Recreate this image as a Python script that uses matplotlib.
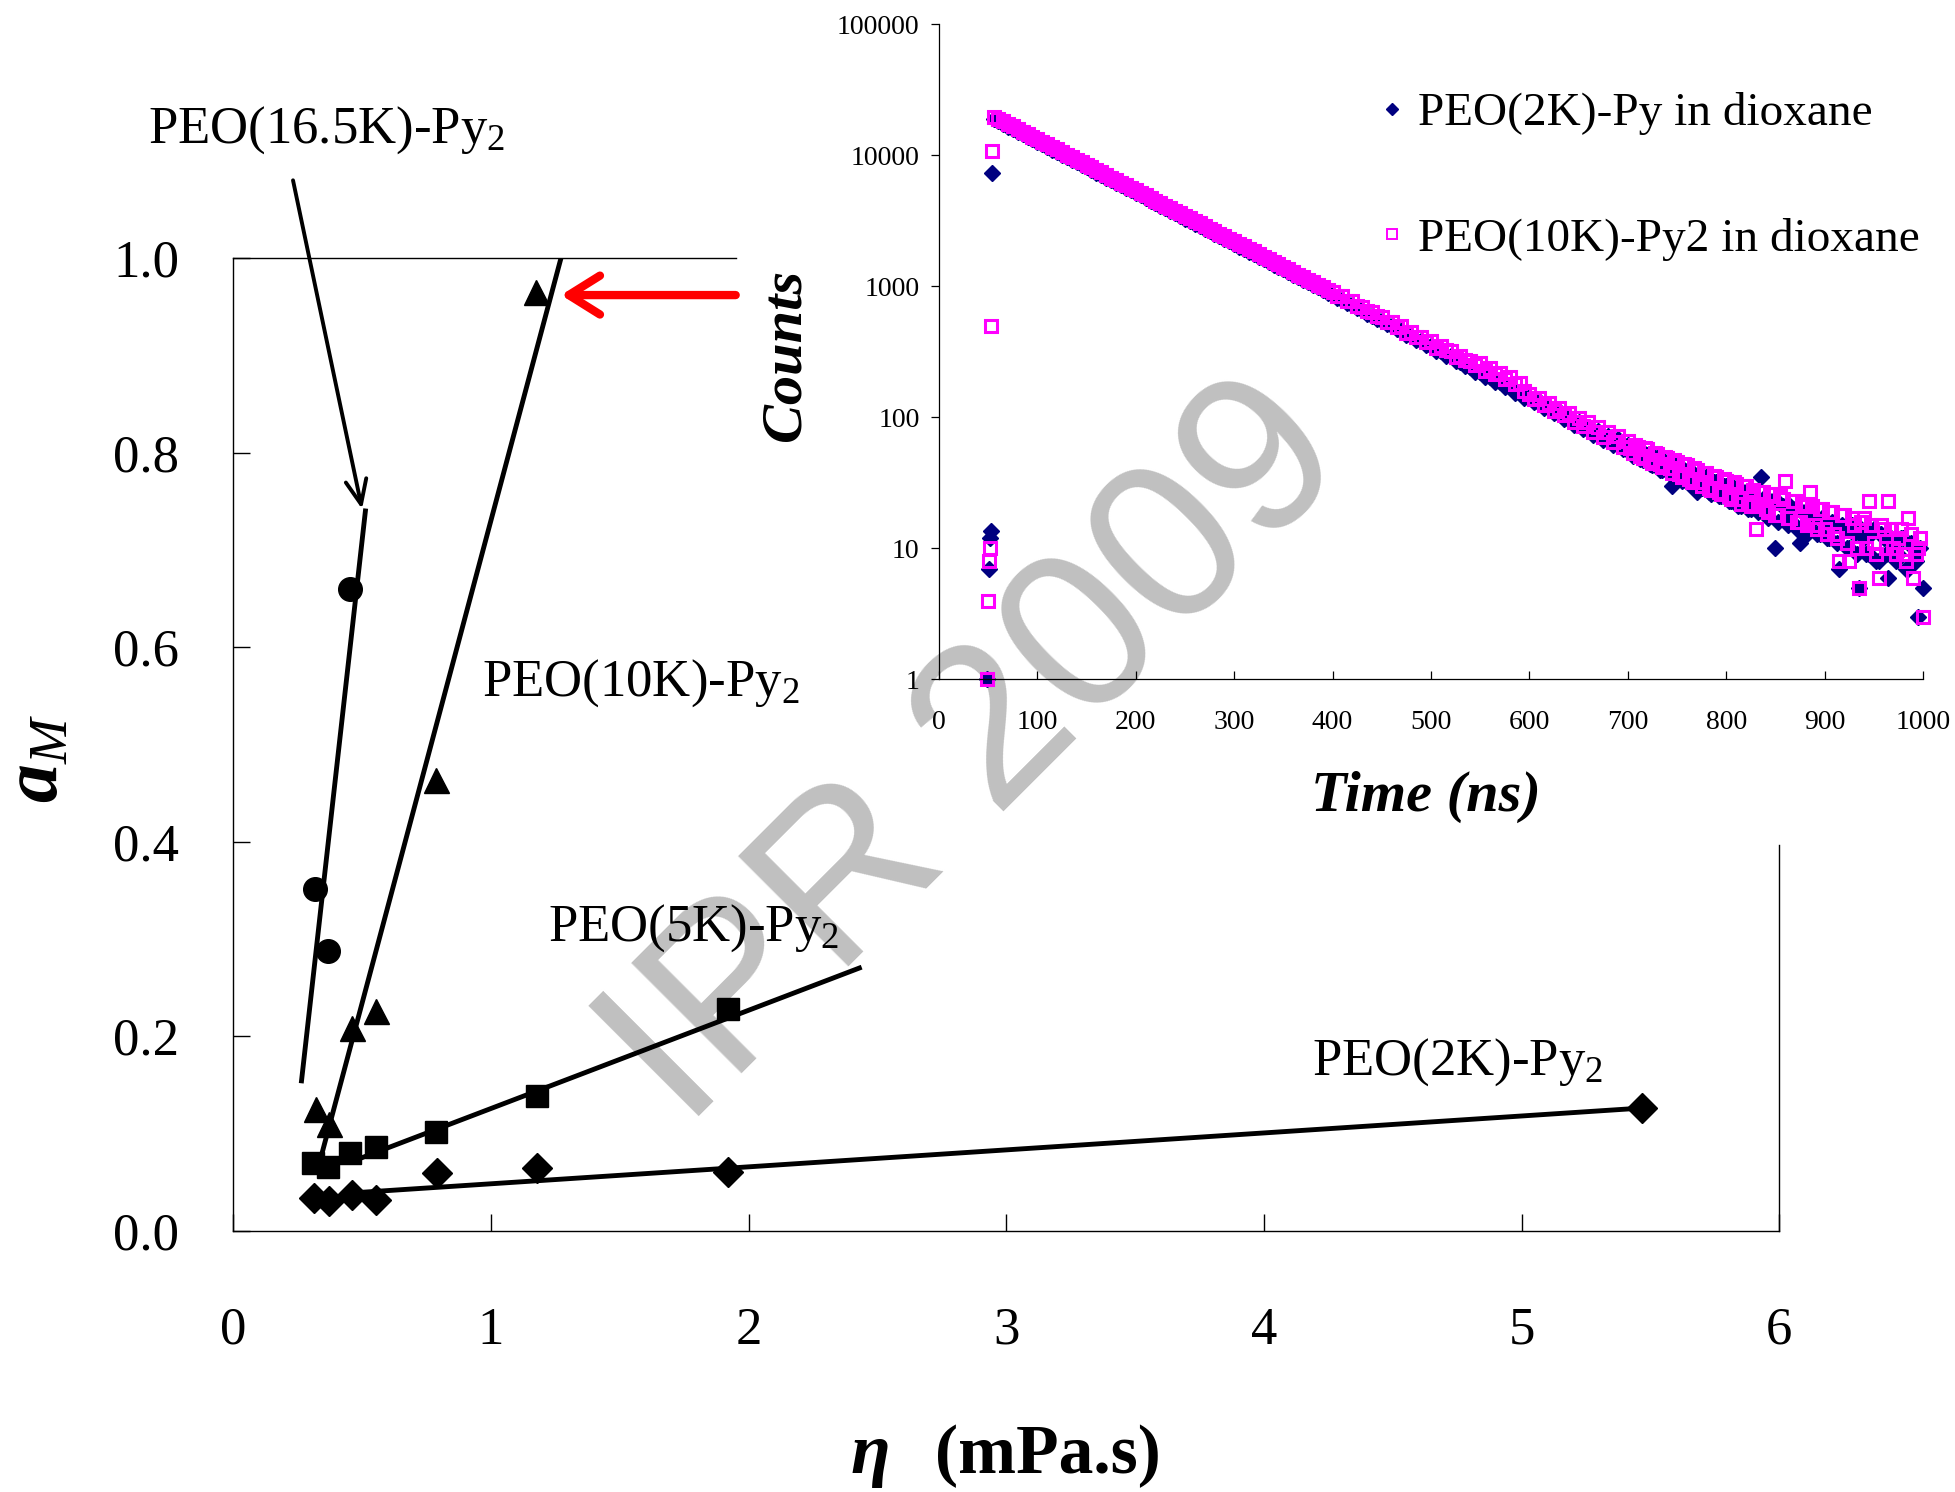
import numpy as np
import matplotlib.pyplot as plt
from matplotlib.ticker import FixedLocator

plt.switch_backend('agg')
plt.rcParams['font.family'] = ['Liberation Serif', 'DejaVu Serif']
plt.rcParams['mathtext.fontset'] = 'custom'
plt.rcParams['mathtext.rm'] = 'Liberation Serif'
plt.rcParams['mathtext.it'] = 'Liberation Serif:italic'
plt.rcParams['mathtext.bf'] = 'Liberation Serif:bold'
plt.rcParams['mathtext.bfit'] = 'Liberation Serif:italic:bold'

# ---- main plot: a_M vs viscosity ----
eta_16k = [0.316, 0.368, 0.455]
am_16k = [0.351, 0.288, 0.660]
fit_16k_x = [0.265, 0.513]
fit_16k_y = [0.154, 0.740]

eta_10k = [0.320, 0.372, 0.461, 0.554, 0.787, 1.174]
am_10k = [0.125, 0.110, 0.208, 0.226, 0.463, 0.965]
fit_10k_x = [0.343, 1.272]
fit_10k_y = [0.078, 1.000]

eta_5k = [0.309, 0.369, 0.453, 0.554, 0.787, 1.178, 1.920]
am_5k = [0.070, 0.065, 0.080, 0.086, 0.101, 0.138, 0.228]
fit_5k_x = [0.50, 2.43]
fit_5k_y = [0.075, 0.270]

eta_2k = [0.313, 0.372, 0.459, 0.556, 0.792, 1.178, 1.920, 5.467]
am_2k = [0.034, 0.030, 0.037, 0.031, 0.059, 0.064, 0.060, 0.126]
fit_2k_x = [0.476, 5.467]
fit_2k_y = [0.039, 0.126]

t_rise_py = [49, 51, 52, 53, 54, 56]
c_rise_py = [1, 7, 12, 13.5, 7300, 19000]
t_rise_py2 = [49, 50, 51, 52, 53, 54, 56]
c_rise_py2 = [1, 4, 8, 10, 500, 10900, 19800]

t_band = np.arange(60, 600, 5)
c_band_py2 = [19050, 18210, 17410, 16650, 15920, 15220, 14550, 13910, 13300, 12720,
              12160, 11620, 11110, 10630, 10160, 9710, 9290, 8880, 8490, 8120,
              7760, 7420, 7090, 6780, 6490, 6200, 5930, 5670, 5420, 5180,
              4960, 4740, 4530, 4330, 4140, 3960, 3790, 3620, 3460, 3310,
              3160, 3030, 2890, 2770, 2640, 2530, 2420, 2310, 2210, 2110,
              2020, 1930, 1850, 1770, 1690, 1610, 1540, 1480, 1410, 1350,
              1290, 1230, 1180, 1130, 1080, 1030, 984, 941, 915, 850,
              840, 775, 770, 705, 700, 645, 640, 590, 585, 535,
              540, 490, 495, 440, 448, 410, 410, 375, 384, 340,
              351, 325, 320, 290, 295, 275, 268, 250, 262, 228,
              240, 215, 218, 196, 202, 180, 183, 160]
c_band_py = [18200, 17400, 16600, 15900, 15200, 14500, 13900, 13300, 12700, 12150,
             11600, 11100, 10600, 10150, 9700, 9270, 8870, 8480, 8110, 7750,
             7410, 7090, 6770, 6470, 6200, 5920, 5660, 5410, 5180, 4950,
             4740, 4530, 4330, 4130, 3950, 3780, 3620, 3460, 3300, 3160,
             3020, 2890, 2760, 2650, 2520, 2420, 2310, 2210, 2110, 2010,
             1930, 1840, 1770, 1690, 1610, 1540, 1470, 1410, 1350, 1290,
             1230, 1175, 1125, 1080, 1030, 985, 940, 898, 860, 815,
             790, 745, 720, 680, 656, 620, 600, 565, 549, 515,
             502, 470, 459, 425, 420, 388, 383, 355, 350, 322,
             320, 295, 292, 268, 267, 245, 244, 222, 223, 205,
             204, 185, 187, 170, 171, 155, 156, 142]

t_tail = np.arange(600, 1001, 5)
c_tail_py2 = [152, 138, 141, 124, 128, 113, 119, 104, 108, 93,
              99, 86, 92, 78, 84, 71, 77, 65, 72, 60,
              66, 54, 60, 49, 57, 45, 53, 42, 49, 38,
              46, 35, 43, 32, 40, 30, 38, 28, 35, 26,
              33, 24, 31, 22, 30, 21, 14, 27, 20, 26,
              18, 25, 33, 17, 23, 16, 21, 27, 15, 20,
              14, 19, 13, 8, 18, 8, 15, 5, 17, 23,
              11, 6, 14, 23, 10, 12, 9, 17, 6, 10, 3]
c_tail_py = [143, 131, 133, 119, 120, 108, 112, 98, 101, 88,
             93, 82, 85, 74, 79, 67, 72, 62, 68, 57,
             62, 51, 56, 47, 52, 43, 49, 40, 45, 30,
             43, 33, 39, 31, 27, 29, 35, 26, 32, 25,
             30, 23, 28, 21, 27, 20, 24, 35, 19, 23,
             10, 22, 17, 21, 15, 11, 19, 14, 17, 13,
             16, 12, 15, 7, 14, 10, 13, 5, 12, 9,
             14, 8, 12, 6, 11, 9, 12, 7, 10, 3, 5]

t_tail_b = np.arange(702.5, 1000, 5)
c_tail_b_py2 = [58, 62, 51, 58, 47, 54, 44, 50, 41, 47,
                37, 44, 34, 41, 32, 38, 29, 36, 27, 34,
                25, 32, 24, 30, 22, 28, 21, 27, 19, 26,
                18, 24, 17, 23, 16, 22, 15, 21, 14, 20,
                13, 19, 12, 18, 11, 17, 10, 16, 10, 15,
                9, 15, 10, 14, 9, 14, 8, 13, 9, 12]
c_tail_b_py = [55, 58, 48, 53, 44, 49, 40, 46, 37, 43,
               34, 40, 31, 37, 29, 34, 27, 32, 25, 30,
               23, 29, 21, 27, 20, 25, 19, 24, 17, 23,
               16, 21, 15, 20, 14, 19, 13, 18, 13, 17,
               12, 16, 11, 15, 10, 15, 9, 14, 9, 13,
               8, 13, 9, 12, 8, 12, 7, 11, 8, 10]

t_py = np.concatenate([t_rise_py, t_band, t_tail, t_tail_b])
c_py = np.concatenate([c_rise_py, c_band_py, c_tail_py, c_tail_b_py])
t_py2 = np.concatenate([t_rise_py2, t_band, t_tail, t_tail_b])
c_py2 = np.concatenate([c_rise_py2, c_band_py2, c_tail_py2, c_tail_b_py2])

fig = plt.figure(figsize=(19.55, 14.92), dpi=100)

# watermark sits behind everything
fig.text(0.500, 0.494, 'IPR 2009', rotation=45, rotation_mode='anchor',
         ha='center', va='center', fontsize=163, color='#c0c0c0',
         family='Liberation Sans', zorder=-1)

ax = fig.add_axes([0.1193, 0.1752, 0.7908, 0.6518])
ax.set_facecolor('none')
ax.set_xlim(0, 6)
ax.set_ylim(0, 1)

lw_fit = 3.5
ax.plot(fit_16k_x, fit_16k_y, color='black', lw=lw_fit)
ax.plot(fit_10k_x, fit_10k_y, color='black', lw=lw_fit)
ax.plot(fit_5k_x, fit_5k_y, color='black', lw=lw_fit)
ax.plot(fit_2k_x, fit_2k_y, color='black', lw=lw_fit)

ax.plot(eta_16k, am_16k, 'o', color='black', ms=17, clip_on=False)
ax.plot(eta_10k, am_10k, '^', color='black', ms=18, clip_on=False)
ax.plot(eta_5k, am_5k, 's', color='black', ms=16, clip_on=False)
ax.plot(eta_2k, am_2k, 'D', color='black', ms=15, clip_on=False)

lab_fs = 38
ax.text(-0.331, 1.119, 'PEO(16.5K)-Py$_2$', fontsize=lab_fs, ha='left', va='baseline', clip_on=False)
ax.text(0.966, 0.550, 'PEO(10K)-Py$_2$', fontsize=lab_fs, ha='left', va='baseline')
ax.text(1.222, 0.298, 'PEO(5K)-Py$_2$', fontsize=lab_fs, ha='left', va='baseline')
ax.text(4.187, 0.160, 'PEO(2K)-Py$_2$', fontsize=lab_fs, ha='left', va='baseline')

ax.annotate('', xy=(0.500, 0.742), xytext=(0.232, 1.080), annotation_clip=False,
            arrowprops=dict(arrowstyle='->,head_length=0.7,head_width=0.3',
                            color='black', lw=2.8, mutation_scale=25,
                            shrinkA=0, shrinkB=0))
ax.annotate('', xy=(1.272, 0.962), xytext=(1.95, 0.962), annotation_clip=False,
            arrowprops=dict(arrowstyle='->,head_length=0.8,head_width=0.5',
                            color='red', lw=6, mutation_scale=28,
                            shrinkA=0, shrinkB=0))

ax.spines['top'].set_bounds(0, 1.95)
ax.spines['right'].set_bounds(0, 0.397)
for s in ax.spines.values():
    s.set_linewidth(1.0)
ax.set_xticks(range(7))
ax.set_yticks([0, 0.2, 0.4, 0.6, 0.8, 1.0])
ax.set_yticklabels(['0.0', '0.2', '0.4', '0.6', '0.8', '1.0'])
ax.tick_params(axis='x', direction='in', length=12, width=1, pad=55, labelsize=38)
ax.tick_params(axis='y', direction='in', length=12, width=1, pad=39, labelsize=38)
ax.tick_params(top=False, right=False)

fig.text(38 / 1955, 1 - 758 / 1492, r'$\mathbfit{a}_{\mathit{M}}$', fontsize=56,
         rotation=90, ha='center', va='center')
fig.text(870 / 1955, 1 - 1456 / 1492, 'η', fontsize=52, fontweight='bold',
         fontstyle='italic', ha='center', va='center')
fig.text(1048 / 1955, 1 - 1456 / 1492, '(mPa.s)', fontsize=50, fontweight='bold',
         ha='center', va='center')

# ---- inset ----
ax2 = fig.add_axes([0.4803, 0.5446, 0.5033, 0.4390])
ax2.set_facecolor('none')
ax2.set_yscale('log')
ax2.set_xlim(0, 1000)
ax2.set_ylim(1, 100000)
ax2.plot(t_py, c_py, 'D', color='#000080', ms=8, ls='none',
         label='PEO(2K)-Py in dioxane', clip_on=False)
ax2.plot(t_py2, c_py2, 's', mfc='none', mec='#ff00ff', mew=2.2, ms=8.5, ls='none',
         label='PEO(10K)-Py2 in dioxane', clip_on=False)
ax2.spines['top'].set_visible(False)
ax2.spines['right'].set_visible(False)
for s in ax2.spines.values():
    s.set_linewidth(0.9)
ax2.xaxis.set_major_locator(FixedLocator(range(0, 1001, 100)))
ax2.yaxis.set_major_locator(FixedLocator([1, 10, 100, 1000, 10000, 100000]))
ax2.set_yticklabels(['1', '10', '100', '1000', '10000', '100000'])
ax2.yaxis.set_minor_locator(FixedLocator([]))
ax2.tick_params(axis='x', direction='in', length=6, width=0.9, pad=22, labelsize=20)
ax2.tick_params(axis='y', direction='out', length=6, width=0.9, pad=8, labelsize=20)

leg = ax2.legend(loc='upper left', bbox_to_anchor=(1380 / 1955, 1 - 92 / 1492),
                 bbox_transform=fig.transFigure, frameon=False, fontsize=34,
                 handlelength=0.5, handletextpad=0.3, labelspacing=1.75,
                 borderpad=0, borderaxespad=0, markerscale=0.8)
leg.legend_handles[1].set_markeredgewidth(1.4)

fig.text(785 / 1955, 1 - 355 / 1492, 'Counts', fontsize=42, fontweight='bold',
         fontstyle='italic', rotation=90, ha='center', va='center')
fig.text(1426 / 1955, 1 - 797 / 1492, 'Time (ns)', fontsize=42, fontweight='bold',
         fontstyle='italic', ha='center', va='center')

fig.savefig('out.png', dpi=100)
plt.close(fig)
